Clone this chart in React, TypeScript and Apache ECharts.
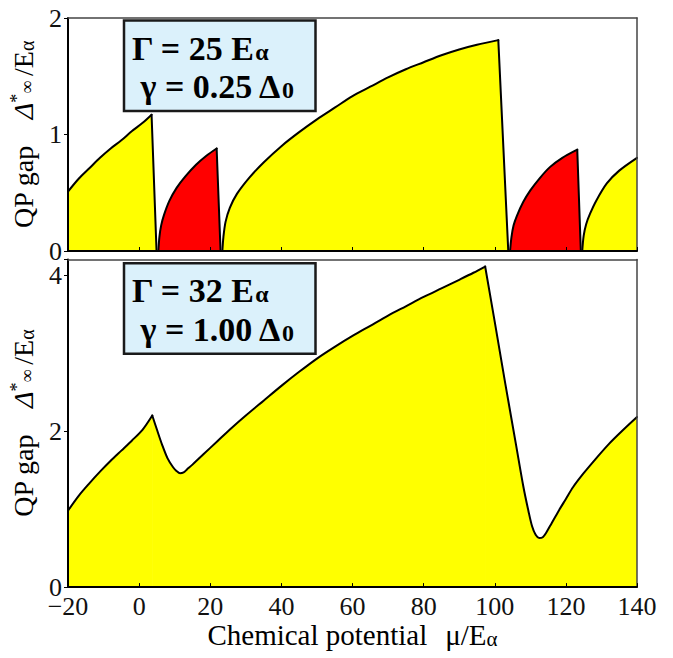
import React, { useEffect, useRef } from "react";
import * as echarts from "echarts";

// ---------- data ----------
const X_MIN = -20;
const X_MAX = 140;
const X_STEP = 20;

const TOP_Y_MAX = 2;
const TOP_Y_STEP = 1;
const BOTTOM_Y_MAX = 4.2;
const BOTTOM_Y_STEP = 2;

// top panel (Γ = 25 Eα, γ = 0.25 Δ0): rising curve, then a straight drop to zero at *DropX
const topYellow1X = [-20, -17, -14, -11, -8, -5, -2, 1, 3.5];
const topYellow1Y = [0.51, 0.62, 0.71, 0.8, 0.88, 0.95, 1.03, 1.1, 1.17];
const topYellow1DropX = 4.9;

const topRed1X = [5.4, 5.7, 6.2, 7, 8.5, 10.5, 13, 16, 19, 21.8];
const topRed1Y = [0, 0.12, 0.22, 0.31, 0.43, 0.54, 0.64, 0.74, 0.82, 0.88];
const topRed1DropX = 22.9;

const topYellow2X = [23.4, 23.7, 24.3, 25.5, 27.5, 31, 35, 40, 45, 50, 55, 60, 65, 70, 75, 80, 85, 90, 95, 101];
const topYellow2Y = [0, 0.12, 0.25, 0.37, 0.49, 0.63, 0.76, 0.9, 1.02, 1.13, 1.23, 1.33, 1.41, 1.49, 1.56, 1.62, 1.68, 1.73, 1.77, 1.81];
const topYellow2DropX = 103.8;

const topRed2X = [104.3, 104.7, 105.3, 106.2, 108, 110, 112.5, 115.5, 119, 123.2];
const topRed2Y = [0, 0.12, 0.22, 0.3, 0.42, 0.52, 0.62, 0.72, 0.8, 0.87];
const topRed2DropX = 124.2;

const topYellow3X = [124.6, 125, 125.7, 126.8, 128.5, 131.5, 135, 140];
const topYellow3Y = [0, 0.13, 0.23, 0.32, 0.43, 0.58, 0.69, 0.8];

// bottom panel (Γ = 32 Eα, γ = 1.00 Δ0), split at its two sharp peaks
const bottomAX = [-20, -17, -14, -11, -8, -5, -2, 1, 3.7];
const bottomAY = [0.98, 1.17, 1.33, 1.48, 1.62, 1.75, 1.88, 2.02, 2.2];
const bottomBX = [3.7, 5, 6.5, 8, 9.5, 10.5, 11.5, 12.5, 13.5, 15, 18, 22, 26, 30, 35, 40, 45, 50, 55, 60, 65, 70, 75, 80, 85, 90, 94, 97.3];
const bottomBY = [2.2, 2.02, 1.82, 1.65, 1.54, 1.49, 1.46, 1.47, 1.51, 1.57, 1.7, 1.87, 2.04, 2.2, 2.39, 2.58, 2.76, 2.93, 3.08, 3.22, 3.35, 3.48, 3.6, 3.72, 3.83, 3.94, 4.03, 4.11];
const bottomCX = [97.3, 100, 103, 106, 108, 109.5, 110.5, 111.5, 112.5, 113.5, 114.5, 116, 118, 120, 122, 125, 128.7, 132, 136, 140];
const bottomCY = [4.11, 3.4, 2.6, 1.82, 1.3, 0.97, 0.78, 0.67, 0.63, 0.64, 0.7, 0.82, 0.98, 1.13, 1.28, 1.46, 1.66, 1.83, 2.01, 2.18];

const topBoxLines = ["{b|Γ = 25 E}{s|α}", "{b|γ = 0.25 Δ}{s|0}"];
const bottomBoxLines = ["{b|Γ = 32 E}{s|α}", "{b|γ = 1.00 Δ}{s|0}"];

const YELLOW = "#ffff00";
const RED = "#ff0000";
const BOX_FILL = "#dbf1fb";

// ---------- helpers ----------
const SERIF = "Liberation Serif";
const zip = (xs: number[], ys: number[]) => xs.map((x, i) => [x, ys[i]]);

const area = (data: number[][], color: string, gi: number, smooth: boolean, withLine: boolean, z: number) => ({
  type: "line",
  xAxisIndex: gi,
  yAxisIndex: gi,
  data,
  smooth: smooth ? 0.3 : false,
  symbol: "none",
  showSymbol: false,
  silent: true,
  lineStyle: withLine
    ? { color: "#000", width: 2, cap: "round", join: "round" }
    : { width: 0, opacity: 0 },
  areaStyle: { color, opacity: 1 },
  z,
});

// a rising curve plus its straight drop to zero; an unsmoothed fill below hides seams
const segment = (xs: number[], ys: number[], dropX: number | null, color: string, gi: number) => {
  const pts = zip(xs, ys);
  const n = xs.length - 1;
  const full = dropX !== null ? [...pts, [dropX, 0]] : pts;
  const out: any[] = [area(full, color, gi, false, false, 1), area(pts, color, gi, true, true, 2)];
  if (dropX !== null) out.push(area([[xs[n], ys[n]], [dropX, 0]], color, gi, false, true, 2));
  return out;
};

const fmtX = (v: number) => (v < 0 ? "\u2212" + Math.abs(v) : String(v));

const yNameRich = {
  a: { fontFamily: SERIF, fontSize: 28, color: "#000", padding: [0, 26, 0, 0] },
  d: { fontFamily: SERIF, fontSize: 28, fontStyle: "italic", color: "#000" },
  sup: { fontFamily: SERIF, fontSize: 18, color: "#000", padding: [0, 0, 12, 0] },
  sub: { fontFamily: SERIF, fontSize: 18, color: "#000", padding: [8, 0, 0, 0] },
  e: { fontFamily: SERIF, fontSize: 28, color: "#000", padding: [0, 0, 0, 5] },
  s: { fontFamily: SERIF, fontSize: 20, color: "#000", padding: [7, 0, 0, 0] },
};
const yName = "{a|QP gap}{d|Δ}{sup|*}{sub|∞}{e|/E}{s|α}";

const xNameRich = {
  a: { fontFamily: SERIF, fontSize: 29, color: "#000" },
  b: { fontFamily: SERIF, fontSize: 29, color: "#000", padding: [0, 0, 0, 18] },
  s: { fontFamily: SERIF, fontSize: 21, color: "#000", padding: [8, 0, 0, 0] },
};

const boxRich = {
  b: { fontFamily: SERIF, fontSize: 34, fontWeight: "bold", color: "#000" },
  s: { fontFamily: SERIF, fontSize: 24, fontWeight: "bold", color: "#000", padding: [7, 0, 0, 0] },
};

const tickLabel = { fontFamily: SERIF, fontSize: 26, color: "#111", lineHeight: 18 };

export default function App() {
  const ref = useRef<HTMLDivElement>(null);

  useEffect(() => {
    document.body.style.margin = "0";
    document.body.style.overflow = "hidden";
    const chart = echarts.init(ref.current!, undefined, { renderer: "svg" });

    const mainX = (gi: number, showLabels: boolean) => ({
      type: "value",
      gridIndex: gi,
      min: X_MIN,
      max: X_MAX,
      interval: X_STEP,
      z: 5,
      axisLine: { show: true, onZero: false, lineStyle: { color: "#000", width: 2 } },
      axisTick: { show: true, inside: true, length: 4, lineStyle: { color: "#000", width: 1 } },
      axisLabel: { show: showLabels, margin: 10, formatter: fmtX, ...tickLabel },
      splitLine: { show: false },
      ...(showLabels
        ? {
            name: "{a|Chemical potential}{b|μ/E}{s|α}",
            nameLocation: "middle",
            nameGap: 27,
            nameTextStyle: { rich: xNameRich },
          }
        : {}),
    });
    const frameX = (gi: number) => ({
      type: "value",
      gridIndex: gi,
      position: "top",
      min: X_MIN,
      max: X_MAX,
      z: 5,
      axisLine: { show: true, onZero: false, lineStyle: { color: "#444", width: 1.5 } },
      axisTick: { show: false },
      axisLabel: { show: false },
      splitLine: { show: false },
    });
    const mainY = (gi: number, max: number, step: number) => ({
      type: "value",
      gridIndex: gi,
      min: 0,
      max,
      interval: step,
      z: 5,
      axisLine: { show: true, onZero: false, lineStyle: { color: "#000", width: 2 } },
      axisTick: { show: true, inside: false, length: 4, lineStyle: { color: "#000", width: 1 } },
      axisLabel: {
        margin: 6,
        formatter: (v: number) => (Number.isInteger(v) ? String(v) : ""),
        ...tickLabel,
      },
      splitLine: { show: false },
      name: yName,
      nameLocation: "middle",
      nameRotate: 90,
      nameGap: 30,
      nameTextStyle: { rich: yNameRich },
    });
    const frameY = (gi: number, max: number) => ({
      type: "value",
      gridIndex: gi,
      position: "right",
      min: 0,
      max,
      z: 5,
      axisLine: { show: true, onZero: false, lineStyle: { color: "#444", width: 1.5 } },
      axisTick: { show: false },
      axisLabel: { show: false },
      splitLine: { show: false },
    });

    const boxGraphic = (top: number, lines: string[]) => [
      {
        type: "rect",
        z: 20,
        shape: { x: 124, y: top, width: 191.5, height: 90.5 },
        style: { fill: BOX_FILL, stroke: "#1a1a1a", lineWidth: 2.5 },
      },
      {
        type: "text",
        z: 21,
        x: 132,
        y: top + 27.5,
        style: { text: lines[0], rich: boxRich, align: "left", verticalAlign: "middle" },
      },
      {
        type: "text",
        z: 21,
        x: 140.5,
        y: top + 66,
        style: { text: lines[1], rich: boxRich, align: "left", verticalAlign: "middle" },
      },
    ];

    chart.setOption({
      animation: false,
      backgroundColor: "#fff",
      grid: [
        { left: 68, right: 36, top: 18, height: 233 },
        { left: 68, right: 36, top: 259.5, height: 342 },
      ],
      xAxis: [mainX(0, false), mainX(1, true), frameX(0), frameX(1)],
      yAxis: [
        mainY(0, TOP_Y_MAX, TOP_Y_STEP),
        mainY(1, BOTTOM_Y_MAX, BOTTOM_Y_STEP),
        frameY(0, TOP_Y_MAX),
        frameY(1, BOTTOM_Y_MAX),
      ],
      series: [
        ...segment(topYellow1X, topYellow1Y, topYellow1DropX, YELLOW, 0),
        ...segment(topRed1X, topRed1Y, topRed1DropX, RED, 0),
        ...segment(topYellow2X, topYellow2Y, topYellow2DropX, YELLOW, 0),
        ...segment(topRed2X, topRed2Y, topRed2DropX, RED, 0),
        ...segment(topYellow3X, topYellow3Y, null, YELLOW, 0),
        ...segment(bottomAX, bottomAY, null, YELLOW, 1),
        ...segment(bottomBX, bottomBY, null, YELLOW, 1),
        ...segment(bottomCX, bottomCY, null, YELLOW, 1),
      ],
      graphic: [...boxGraphic(20.5, topBoxLines), ...boxGraphic(263.3, bottomBoxLines)],
    });

    return () => chart.dispose();
  }, []);

  return <div ref={ref} style={{ width: 673, height: 658 }} />;
}
